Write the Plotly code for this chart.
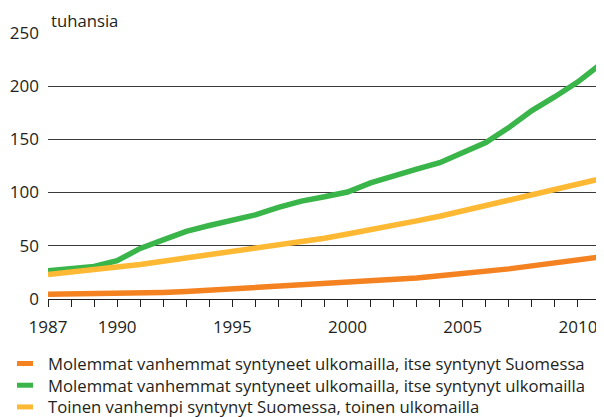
import plotly.graph_objects as go

years = list(range(1987, 2012))

series_names = [
    "Molemmat vanhemmat syntyneet ulkomailla, itse syntynyt Suomessa",
    "Molemmat vanhemmat syntyneet ulkomailla, itse syntynyt ulkomailla",
    "Toinen vanhempi syntynyt Suomessa, toinen ulkomailla",
]

orange_values = [4.5, 4.6, 4.8, 5.0, 5.5, 6.2, 7.0, 8.2, 9.5, 10.8, 12.0, 13.0, 13.8,
                 15.0, 16.5, 18.0, 19.7, 21.8, 23.7, 25.8, 28.3, 31.1, 33.6, 36.7, 39.5]
green_values = [26.5, 28.0, 30.5, 36.0, 47.5, 55.5, 63.5, 69.0, 74.5, 79.0, 86.0, 92.0, 96.0,
                100.5, 109.0, 116.0, 122.0, 128.0, 137.0, 147.0, 161.0, 177.0, 190.0, 204.0, 221.0]
yellow_values = [23.0, 25.0, 27.5, 30.0, 32.5, 35.5, 38.5, 41.5, 44.5, 47.5, 51.0, 54.0, 57.0,
                 61.0, 64.7, 68.7, 73.4, 77.7, 82.7, 88.0, 93.3, 98.9, 103.5, 108.2, 113.0]

tick_years = years
tick_labels = [str(y) if y in (1987, 1990, 1995, 2000, 2005, 2010) else "" for y in years]
y_ticks = [0, 50, 100, 150, 200, 250]
unit_label = "tuhansia"

colors = ["#F48220", "#39B54A", "#FDB933"]
all_values = [orange_values, green_values, yellow_values]

text_color = "#231F20"
font_family = "Open Sans"
text_size = 16.7
line_step = 1.3 * text_size  # Plotly's line height for multi-line text

# The page body adds an 8px offset; the figure is sized to fill the rest of the window.
FIG_W, FIG_H = 596, 409
M_L, M_R, M_T, M_B = 40, 3, 24, 118
plot_h = FIG_H - M_T - M_B
plot_w = FIG_W - M_L - M_R


def py(page_y):
    """page pixel y -> paper coordinate"""
    fig_y = page_y - 8
    return (FIG_H - M_B - fig_y) / plot_h


def px(page_x):
    fig_x = page_x - 8
    return (fig_x - M_L) / plot_w


fig = go.Figure()
for name, vals, col in zip(series_names, all_values, colors):
    fig.add_trace(go.Scatter(
        x=years, y=vals, mode="lines", name=name,
        line=dict(color=col, width=5.5),
        showlegend=False,
    ))

# Manual legend: one multi-line text block plus coloured symbols
first_row = 363.0
row_ys = [first_row + i * line_step for i in range(len(series_names))]
shapes = []
for col, ly in zip(colors, row_ys):
    shapes.append(dict(type="line", xref="paper", yref="paper",
                       x0=px(17), x1=px(33), y0=py(ly + 0.5), y1=py(ly + 0.5),
                       line=dict(color=col, width=5)))

annotations = [
    dict(text="<br>".join(series_names), xref="paper", yref="paper",
         x=px(46), y=py((row_ys[0] + row_ys[-1]) / 2), xanchor="left", yanchor="middle",
         align="left", showarrow=False,
         font=dict(size=text_size, color=text_color, family=font_family)),
    dict(text=unit_label, xref="paper", yref="paper",
         x=px(49), y=py(19.5), xanchor="left", yanchor="middle",
         showarrow=False, height=20, valign="middle",
         font=dict(size=text_size, color=text_color, family=font_family)),
]

fig.update_layout(
    width=FIG_W, height=FIG_H,
    margin=dict(l=M_L, r=M_R, t=M_T, b=M_B, pad=0),
    paper_bgcolor="white", plot_bgcolor="white",
    font=dict(family=font_family, color=text_color, size=17),
    shapes=shapes,
    annotations=annotations,
    xaxis=dict(
        range=[1987, 2011],
        tickmode="array", tickvals=tick_years, ticktext=tick_labels,
        ticks="outside", ticklen=7, tickwidth=1, tickcolor=text_color,
        showline=True, linecolor=text_color, linewidth=1,
        showgrid=False, zeroline=False,
        ticklabelstandoff=6,
        tickfont=dict(size=17, color=text_color, family=font_family),
        fixedrange=True,
    ),
    yaxis=dict(
        range=[0, 250.8],
        tickmode="array", tickvals=y_ticks,
        showgrid=True, gridcolor="#3a3a3a", gridwidth=1,
        zeroline=False, showline=False,
        ticks="", ticklabelstandoff=8,
        tickfont=dict(size=17, color=text_color, family=font_family),
        fixedrange=True,
    ),
)

fig.write_html("out.html")
